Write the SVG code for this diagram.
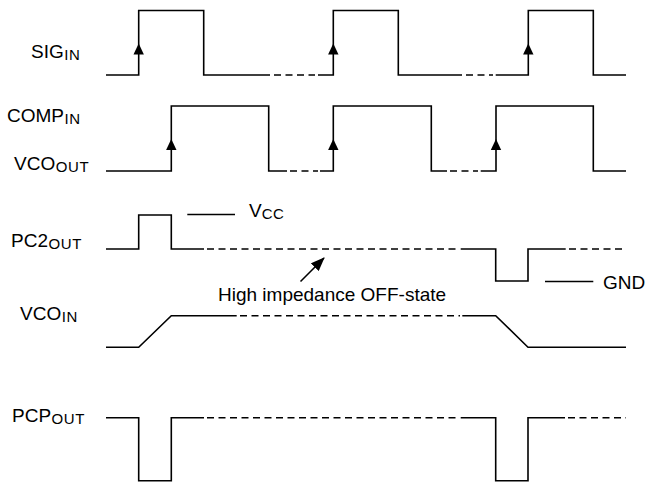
<svg xmlns="http://www.w3.org/2000/svg" xmlns:xlink="http://www.w3.org/1999/xlink" width="648" height="482" viewBox="0 0 648 482">
<style>
.w{fill:none;stroke:#000;stroke-width:1.6;stroke-linejoin:miter}
.d{fill:none;stroke:#000;stroke-width:1.4;stroke-dasharray:7,4.5}
.t{font-family:"Liberation Sans",Arial,sans-serif;font-size:19px;fill:#000}
.s{font-size:15px;letter-spacing:0.6px}
</style>
<defs>
<path id="ah" d="M0,0 L-5.2,11 L5.2,11 Z" fill="#000"/>
<marker id="arr" markerWidth="14" markerHeight="11" refX="13" refY="5.5" orient="auto" markerUnits="userSpaceOnUse">
<path d="M0,0 L14,5.5 L0,11 Z" fill="#000"/>
</marker>
</defs>
<rect width="648" height="482" fill="#fff"/>

<g id="sig_in">
<text class="t" x="31" y="58">SIG<tspan class="s" dx="0.5" dy="2">IN</tspan></text>
<path class="w" d="M106,75 H138.7 V10.5 H203.7 V75 H270"/>
<path class="d" d="M274,75 H315"/>
<path class="w" d="M318,75 H333.3 V10.5 H398.3 V75 H462"/>
<path class="d" d="M466,75 H493"/>
<path class="w" d="M495.7,75 H528.3 V10.5 H593.3 V75 H626"/>
<use xlink:href="#ah" x="138.7" y="43.5"/>
<use xlink:href="#ah" x="333.3" y="43.5"/>
<use xlink:href="#ah" x="528.3" y="43.5"/>
</g>

<g id="comp_vco_out">
<text class="t" x="7" y="122">COMP<tspan class="s" dx="0.5" dy="2">IN</tspan></text>
<text class="t" x="14" y="170">VCO<tspan class="s" dx="0.5" dy="2">OUT</tspan></text>
<path class="w" d="M106,171 H171.3 V106 H268.7 V171 H287"/>
<path class="d" d="M290,171 H318"/>
<path class="w" d="M320,171 H333.3 V106 H431.3 V171 H447"/>
<path class="d" d="M450,171 H478"/>
<path class="w" d="M480.7,171 H496 V106 H593.3 V171 H626"/>
<use xlink:href="#ah" x="171.3" y="139"/>
<use xlink:href="#ah" x="333.3" y="139"/>
<use xlink:href="#ah" x="496" y="139"/>
</g>

<g id="pc2_out">
<text class="t" x="11" y="247">PC2<tspan class="s" dx="0.5" dy="2">OUT</tspan></text>
<path class="w" d="M106,249 H138.7 V215 H171.3 V249 H204"/>
<path class="d" d="M207,249 H460"/>
<path class="w" d="M460.7,249 H495.7 V281 H528 V249 H565.7"/>
<path class="d" d="M569,249 H626"/>
<path class="w" d="M187.3,214.5 H235"/>
<text class="t" x="249" y="217">V<tspan class="s" dy="2">CC</tspan></text>
<path class="w" d="M545,281.5 H593.3"/>
<text class="t" x="603" y="288.5">GND</text>
</g>

<g id="vco_in">
<text class="t" x="20" y="320">VCO<tspan class="s" dx="0.5" dy="2">IN</tspan></text>
<path class="w" d="M106,347.3 H138.7 L171.3,315.7 H236.7"/>
<path class="d" d="M240,315.7 H460"/>
<path class="w" d="M462.3,315.7 H495.7 L528,347.3 H626"/>
</g>

<g id="pcp_out">
<text class="t" x="12" y="422">PCP<tspan class="s" dx="0.5" dy="2">OUT</tspan></text>
<path class="w" d="M106,417.7 H138.7 V480.7 H171.3 V417.7 H204"/>
<path class="d" d="M207,417.7 H460"/>
<path class="w" d="M460.7,417.7 H495.7 V480.7 H528 V417.7 H565"/>
<path class="d" d="M568,417.7 H626"/>
</g>

<g id="annotation">
<text class="t" x="218" y="300.5">High impedance OFF-state</text>
</g>

<g id="connectors">
<path d="M300.5,281.5 L324,258" stroke="#000" stroke-width="1.6" fill="none" marker-end="url(#arr)"/>
</g>
</svg>
